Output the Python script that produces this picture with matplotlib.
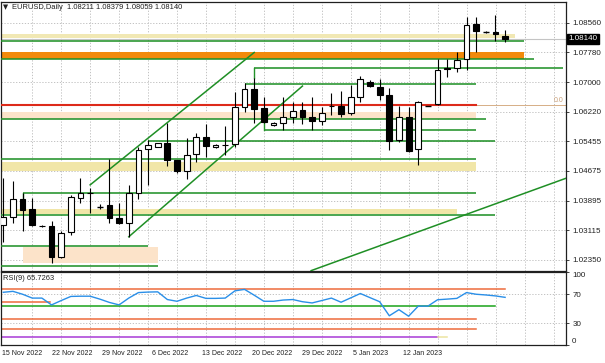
import matplotlib
matplotlib.use('Agg')
import matplotlib.pyplot as plt
import matplotlib.transforms as mtransforms
import numpy as np

plt.rcParams['font.family'] = ['Liberation Sans', 'DejaVu Sans']

# ---------------- data ----------------
opens = [1.0326, 1.0348, 1.0394, 1.0367, 1.0323, 1.0324, 1.0243, 1.0307, 1.0396, 1.0410,
         1.0374, 1.0377, 1.0344, 1.0331, 1.0411, 1.0524, 1.0531, 1.0540, 1.0495, 1.0468,
         1.0511, 1.0557, 1.0529, 1.0535, 1.0537, 1.0634, 1.0682, 1.0632, 1.0587, 1.0594,
         1.0610, 1.0627, 1.0608, 1.0599, 1.0638, 1.0638, 1.0619, 1.0662, 1.0701, 1.0687,
         1.0667, 1.0548, 1.0610, 1.0524, 1.0638, 1.0643, 1.0734, 1.0737, 1.0760, 1.0852,
         1.0832, 1.0832, 1.08211]
highs = [1.0450, 1.0441, 1.0409, 1.0396, 1.0326, 1.0337, 1.0309, 1.0405, 1.0448, 1.0422,
         1.0382, 1.0498, 1.0384, 1.0431, 1.0531, 1.0548, 1.0542, 1.0594, 1.0496, 1.0553,
         1.0568, 1.0590, 1.0537, 1.0584, 1.0675, 1.0697, 1.0710, 1.0662, 1.0597, 1.0661,
         1.0649, 1.0649, 1.0662, 1.0634, 1.0671, 1.0678, 1.0693, 1.0716, 1.0706, 1.0709,
         1.0684, 1.0638, 1.0634, 1.0652, 1.0639, 1.0760, 1.0760, 1.0780, 1.0872, 1.0872,
         1.0833, 1.0876, 1.08379]
lows = [1.0282, 1.0332, 1.0309, 1.0322, 1.0320, 1.0226, 1.0239, 1.0300, 1.0383, 1.0357,
        1.0367, 1.0332, 1.0328, 1.0295, 1.0393, 1.0431, 1.0529, 1.0481, 1.0463, 1.0446,
        1.0492, 1.0505, 1.0527, 1.0509, 1.0531, 1.0623, 1.0594, 1.0594, 1.0585, 1.0575,
        1.0594, 1.0591, 1.0575, 1.0588, 1.0614, 1.0608, 1.0614, 1.0649, 1.0687, 1.0654,
        1.0523, 1.0544, 1.0518, 1.0483, 1.0637, 1.0640, 1.0713, 1.0728, 1.0732, 1.0780,
        1.0830, 1.0809, 1.08059]
closes = [1.0348, 1.0394, 1.0365, 1.0326, 1.0324, 1.0243, 1.0304, 1.0398, 1.0411, 1.0411,
          1.0374, 1.0344, 1.0331, 1.0411, 1.0522, 1.0535, 1.0540, 1.0496, 1.0468, 1.0509,
          1.0557, 1.0533, 1.0536, 1.0536, 1.0634, 1.0682, 1.0630, 1.0597, 1.0594, 1.0608,
          1.0625, 1.0608, 1.0599, 1.0619, 1.0637, 1.0617, 1.0662, 1.0708, 1.0690, 1.0667,
          1.0547, 1.0608, 1.0521, 1.0649, 1.0638, 1.0732, 1.0738, 1.0758, 1.0850, 1.0835,
          1.0832, 1.0826, 1.08140]
rsi = [72.7, 74.0, 70.0, 64.7, 64.7, 55.3, 61.3, 67.0, 67.3, 67.3,
       63.3, 58.7, 55.3, 64.7, 72.3, 73.0, 73.3, 62.7, 60.3, 64.7,
       68.3, 64.3, 64.3, 64.7, 74.7, 76.7, 68.7, 60.3, 60.3, 62.0,
       62.7, 59.7, 58.0, 61.3, 64.7, 59.0, 65.0, 71.0, 65.3, 59.7,
       40.3, 48.7, 39.7, 53.6, 53.6, 62.4, 63.3, 64.3, 72.3, 70.0,
       69.0, 67.7, 65.7263]

price_ticks = [1.08560, 1.07780, 1.07000, 1.06220, 1.05455, 1.04675, 1.03895, 1.03115, 1.02350]
price_labels = ['1.08560', '1.07780', '1.07000', '1.06220', '1.05455', '1.04675', '1.03895', '1.03115', '1.02350']
rsi_ticks = [100, 70, 30, 0]
date_labels = ['15 Nov 2022', '22 Nov 2022', '29 Nov 2022', '6 Dec 2022', '13 Dec 2022',
               '20 Dec 2022', '29 Dec 2022', '5 Jan 2023', '12 Jan 2023']
date_pos = [-0.17, 5.02, 10.2, 15.38, 20.56, 25.74, 30.95, 36.21, 41.42]

# zones: (low, high, x0, x1, colour)
zone_low = [1.0817, 1.0760, 1.0604, 1.0467, 1.0354, 1.0226]
zone_high = [1.0826, 1.0780, 1.0621, 1.0491, 1.0367, 1.0269]
zone_x0 = [-1, -1, -1, -1, -1, 2]
zone_x1 = [53, 54, 49, 49, 47, 16]
zone_colors = ['#f1e8b4', '#f28a0c', '#fce3c9', '#f1e6a8', '#f1e6a8', '#fce3c9']

# horizontal green lines
hl_price = [1.0809, 1.0760, 1.0738, 1.0695, 1.0604, 1.0576, 1.0547, 1.0500, 1.0409, 1.0352, 1.0271, 1.0219]
hl_x0 = [-1, -1, 26, 25, -1, 27, 15, -1, 2, -1, -1, -1]
hl_x1 = [54, 55, 58, 49, 50, 49, 51, 49, 49, 51, 15, 16]
# vertical connectors (x, from, to)
vc_x = [26, 27, 2]
vc_from = [1.0710, 1.0594, 1.0409]
vc_to = [1.0738, 1.0576, 1.0394]

red_level = 1.0641
red_x1 = 49
fib_level = 1.0641
bid_level = 1.08140

# trend lines (x0, p0, x1, p1)
ch_upper = [(9, 1.0431), (26, 1.0778)]
ch_lower = [(13, 1.0295), (31, 1.0690)]
long_line = [(31.9, 1.02063), (58.31, 1.04484)]

# RSI panel lines: level, x0, x1, colour
rl_level = [77.6, 58.9, 54.4, 35.3, 22.0, 11.3, 11.3]
rl_x0 = [-1, -1, -1, -1, -1, -1, 45]
rl_x1 = [52, 4.84, 51, 49, 49, 45, 46]
rl_colors = ['#ee6b3c', '#ee6b3c', '#1aa31a', '#ee6b3c', '#ee6b3c', '#a83ad6', '#ece4a0']

# ---------------- layout ----------------
W, H = 605, 363
fig = plt.figure(figsize=(6.05, 3.63), dpi=100)
fig.patch.set_facecolor('white')


def box(x0, y0, x1, y1):
    return [x0 / W, 1 - y1 / H, (x1 - x0) / W, (y1 - y0) / H]


ax = fig.add_axes(box(1, 1.7, 566, 270.7))
ax2 = fig.add_axes(box(1, 272.3, 566, 345))
XL = (-0.238, 58.31)
for a in (ax, ax2):
    a.set_xlim(*XL)
    for s in a.spines.values():
        s.set_color('#202020')
        s.set_linewidth(0.9)
    a.yaxis.tick_right()
    a.tick_params(axis='y', length=2.5, width=0.6, pad=2, labelsize=5.8, colors='#202020')
    a.tick_params(axis='x', length=0)

ax.set_ylim(1.020612, 1.091104)
ax2.set_ylim(3.33, 100.27)

grid_kw = dict(color='#b8b8b8', lw=0.6, ls=(0, (1.5, 2.0)), zorder=1)
gx = np.arange(1, 20) * 3.005 - 0.06
for a in (ax, ax2):
    for g in gx:
        a.axvline(g, **grid_kw)
for p in price_ticks:
    ax.axhline(p, **grid_kw)
for v in (70, 30):
    ax2.axhline(v, **grid_kw)

ax.set_yticks(price_ticks)
ax.set_yticklabels(price_labels)
ax.set_xticks([])
ax2.set_yticks(rsi_ticks)
ax2.set_yticklabels([str(t) for t in rsi_ticks])
ax2.set_xticks(date_pos)
ax2.set_xticklabels(date_labels, fontsize=5.0, color='#202020')
for t in ax2.get_xticklabels():
    t.set_horizontalalignment('left')
ax2.tick_params(axis='x', pad=3.5)
for lab in ax2.get_yticklabels():
    if lab.get_text() == '100':
        lab.set_verticalalignment('top')
    if lab.get_text() == '0':
        lab.set_verticalalignment('bottom')

# bid line
ax.axhline(bid_level, color='#c4c4c4', lw=0.8, zorder=1.5)
# fib 0.0 line
ax.axhline(fib_level, color='#d6ae86', lw=0.7, zorder=1.5)
ax.text(58.0, fib_level + 0.0002, '0.0', color='#c9a07a', fontsize=5, ha='right', va='bottom')

# zones
for lo, hi, x0, x1, col in zip(zone_low, zone_high, zone_x0, zone_x1, zone_colors):
    ax.fill_between([x0, x1], lo, hi, color=col, lw=0, zorder=2)

# green horizontal lines
for p, x0, x1 in zip(hl_price, hl_x0, hl_x1):
    ax.plot([x0, x1], [p, p], color='#23922a', lw=1.15, zorder=3, solid_capstyle='butt')
for x, a0, a1 in zip(vc_x, vc_from, vc_to):
    ax.plot([x, x], [a0, a1], color='#23922a', lw=1.0, zorder=3)

# red line
ax.plot([-1, red_x1], [red_level, red_level], color='#dd2a1a', lw=1.5, zorder=3)

# trend lines
for ln in (ch_upper, ch_lower, long_line):
    (x0, p0), (x1, p1) = ln
    ax.plot([x0, x1], [p0, p1], color='#1f8f25', lw=1.1, zorder=3)

# candles
o, h, l, c = map(np.array, (opens, highs, lows, closes))
idx = np.arange(len(o))
bw = 0.6
ax.vlines(idx, l, h, color='black', lw=0.8, zorder=5)
up = c > o
dn = c < o
eq = c == o
ax.bar(idx[up], (c - o)[up], bottom=o[up], width=bw, facecolor='white',
       edgecolor='black', lw=0.8, zorder=6)
ax.bar(idx[dn], (o - c)[dn], bottom=c[dn], width=bw, facecolor='black',
       edgecolor='black', lw=0.8, zorder=6)
ax.hlines(c[eq], idx[eq] - bw / 2, idx[eq] + bw / 2, color='black', lw=1.0, zorder=6)

# current price box
trans = mtransforms.blended_transform_factory(ax.transAxes, ax.transData)
ax.text(1.004, closes[-1], '%.5f' % closes[-1], transform=trans, color='white',
        fontsize=5.8, va='center', ha='left',
        bbox=dict(boxstyle='square,pad=0.18', fc='black', ec='black'), zorder=10)

# header
fig.text(3 / W, 1 - 7.5 / H, '\u25bc', fontsize=4.8, va='center', ha='left',
         family=['DejaVu Sans'], color='#202020')
fig.text(12 / W, 1 - 7.5 / H, 'EURUSD,Daily  1.08211 1.08379 1.08059 1.08140',
         fontsize=5.4, va='center', ha='left', color='#202020')

# RSI panel
for lv, x0, x1, col in zip(rl_level, rl_x0, rl_x1, rl_colors):
    ax2.plot([x0, x1], [lv, lv], color=col, lw=1.1, zorder=2)
ax2.plot(idx, rsi, color='#2a8fe8', lw=1.0, zorder=4)
ax2.text(0.004, 0.96, 'RSI(9) 65.7263', transform=ax2.transAxes, fontsize=5.4,
         va='top', ha='left', color='#202020')

fig.savefig('out.png', dpi=100, facecolor='white')
